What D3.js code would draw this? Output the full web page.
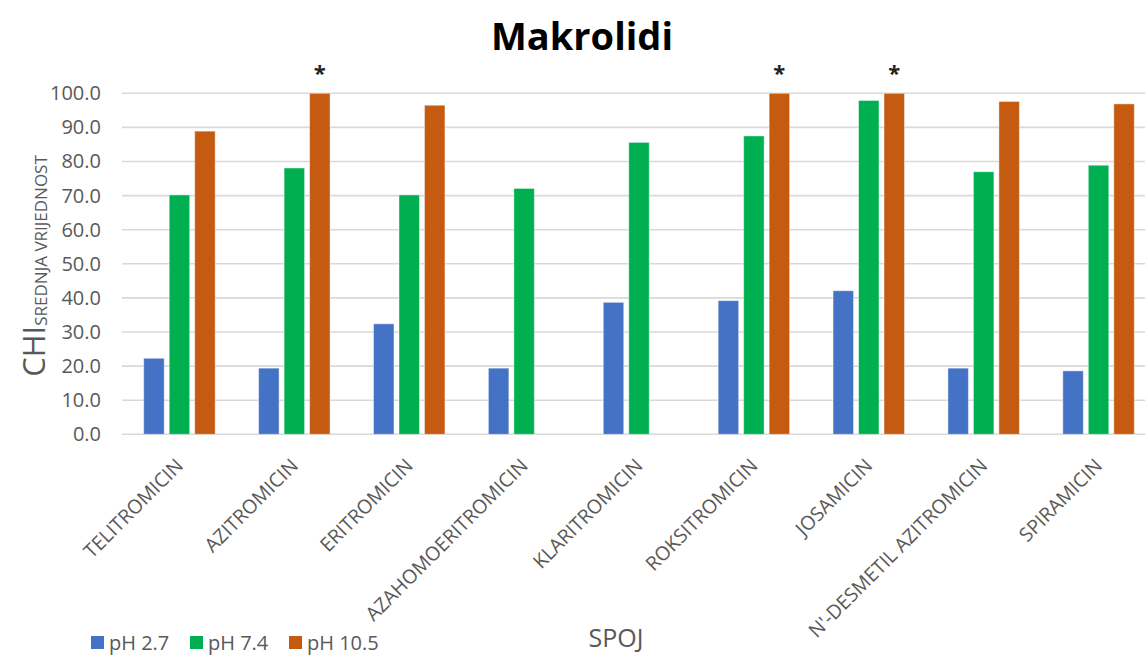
<!DOCTYPE html>
<html>
<head>
<meta charset="utf-8">
<script src="https://cdn.jsdelivr.net/npm/d3@7"></script>
<style>
  html, body { margin: 0; padding: 0; background: #fff; }
  svg { display: block; font-family: "Open Sans", "Liberation Sans", sans-serif; }
</style>
</head>
<body>
<svg id="chart" width="1145" height="657"></svg>
<script>
const categories = ["TELITROMICIN", "AZITROMICIN", "ERITROMICIN", "AZAHOMOERITROMICIN", "KLARITROMICIN", "ROKSITROMICIN", "JOSAMICIN", "N'-DESMETIL AZITROMICIN", "SPIRAMICIN"];
const seriesNames = ["pH 2.7", "pH 7.4", "pH 10.5"];
const ph27 = [22.3, 19.4, 32.4, 19.4, 38.7, 39.2, 42.1, 19.4, 18.6];
const ph74 = [70.2, 78.1, 70.2, 72.1, 85.6, 87.5, 97.9, 77.0, 78.9];
const ph105 = [88.9, 100.0, 96.5, null, null, 100.0, 100.0, 97.6, 96.9];
const starred = ["AZITROMICIN", "ROKSITROMICIN", "JOSAMICIN"];
const yTicks = [0, 10, 20, 30, 40, 50, 60, 70, 80, 90, 100];
const colors = ["#4472C4", "#00B050", "#C55A11"];

const series = [ph27, ph74, ph105];
const svg = d3.select("#chart");

const x0 = d3.scaleBand().domain(categories).range([122, 1156]).paddingInner(0.378).paddingOuter(0.189);
const x1 = d3.scaleBand().domain(d3.range(3)).range([0, x0.bandwidth()]).paddingInner(0.196);
const y = d3.scaleLinear().domain([0, 100]).range([434.3, 93.3]);

// gridlines
svg.append("g").selectAll("line").data(yTicks).join("line")
  .attr("x1", 122).attr("x2", 1145)
  .attr("y1", d => y(d)).attr("y2", d => y(d))
  .attr("stroke", "#d9d9d9").attr("stroke-width", 1.6);

// y axis labels
const yAxis = d3.axisLeft(y).tickValues(yTicks).tickFormat(d3.format(".1f")).tickSize(0).tickPadding(0);
const gy = svg.append("g").attr("transform", "translate(101,0)").call(yAxis);
gy.select(".domain").remove();
gy.selectAll("text").attr("fill", "#595959").style("font-size", "20px").style("font-family", "'Open Sans', sans-serif");

// bars
const rows = categories.map((c, i) => ({ cat: c, vals: series.map(s => s[i]) }));
const groups = svg.append("g").selectAll("g").data(rows).join("g")
  .attr("transform", d => `translate(${x0(d.cat)},0)`);
groups.selectAll("rect").data(d => d.vals.map((v, k) => ({ v, k })).filter(o => o.v != null)).join("rect")
  .attr("x", d => x1(d.k))
  .attr("width", x1.bandwidth())
  .attr("y", d => y(d.v))
  .attr("height", d => y(0) - y(d.v))
  .attr("fill", d => colors[d.k])
  .attr("stroke", "rgba(255,255,255,0.45)")
  .attr("stroke-width", 1);

// asterisks
svg.append("g").selectAll("text").data(starred).join("text")
  .attr("x", d => x0(d) + x1(2) + x1.bandwidth() / 2)
  .attr("y", y(100) - 12)
  .attr("text-anchor", "middle")
  .style("font-size", "22px").style("font-weight", "bold")
  .attr("fill", "#222")
  .text("*");

// x labels
const xAxis = d3.axisBottom(x0).tickSize(0).tickPadding(0);
const gx = svg.append("g").call(xAxis);
gx.select(".domain").remove();
gx.selectAll(".tick").attr("transform", d => `translate(${x0(d) + x0.bandwidth() / 2 - 5},457)`);
gx.selectAll(".tick text")
  .attr("transform", "rotate(-45)")
  .attr("text-anchor", "end")
  .attr("x", 0).attr("y", 0).attr("dy", "0.72em")
  .attr("fill", "#595959")
  .style("font-size", "19.5px").style("font-family", "'Open Sans', sans-serif");

// title
svg.append("text").attr("x", 582).attr("y", 50).attr("text-anchor", "middle")
  .style("font-size", "38px").style("font-weight", "bold").attr("fill", "#000")
  .text("Makrolidi");

// x axis title
svg.append("text").attr("x", 616).attr("y", 647).attr("text-anchor", "middle")
  .style("font-size", "25px").attr("fill", "#595959").text("SPOJ");

// y axis title
const yt = svg.append("text").attr("transform", "translate(45,266) rotate(-90)").attr("text-anchor", "middle").attr("fill", "#595959");
yt.append("tspan").style("font-size", "31px").text("CHI");
yt.append("tspan").style("font-size", "17px").attr("dy", "2").text("SREDNJA VRIJEDNOST");

// legend
const lg = svg.append("g").attr("transform", "translate(91,636)");
const items = lg.selectAll("g").data(seriesNames).join("g")
  .attr("transform", (d, i) => `translate(${[0, 99, 198][i]},0)`);
items.append("rect").attr("width", 13).attr("height", 13).attr("fill", (d, i) => colors[i]);
items.append("text").attr("x", 18).attr("y", 14).attr("fill", "#595959").style("font-size", "20px").text(d => d);
</script>
</body>
</html>
